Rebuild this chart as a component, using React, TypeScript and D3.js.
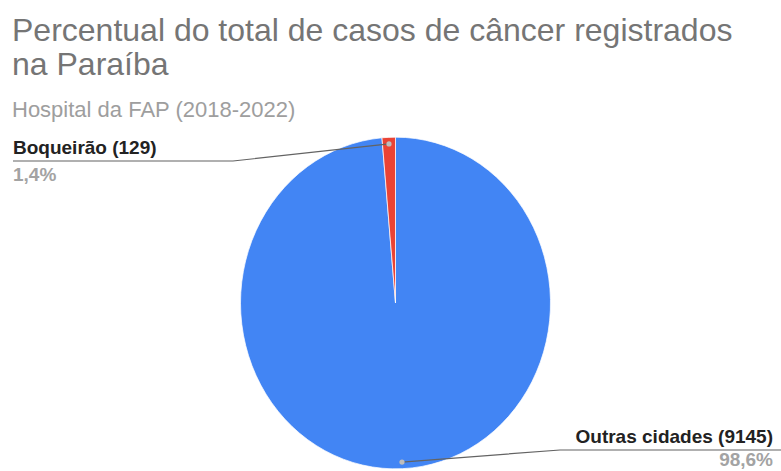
import React from "react";
import * as d3 from "d3";

const categories = ["Outras cidades", "Boqueirão"];
const values = [9145, 129];
const percentLabels = ["98,6%", "1,4%"];
const colors = ["#4285f4", "#ea4335"];

const W = 781;
const H = 471;
const SY = 1.07;

export default function App() {
  const data = categories.map((c, i) => ({ name: c, value: values[i] }));
  const pie = d3
    .pie<{ name: string; value: number }>()
    .sort(null)
    .value((d) => d.value);
  const arcs = pie(data);
  const r = 155;
  const cx = 395.5;
  const cy = 303;
  const arc = d3.arc<any>().innerRadius(0).outerRadius(r);
  const dotArc = d3.arc<any>().innerRadius(r * 0.96).outerRadius(r * 0.96);

  const dots = arcs.map((a) => {
    const [x, y] = dotArc.centroid(a);
    return [cx + x, cy + y * SY];
  });

  const font = "'Liberation Sans', Arial, Helvetica, sans-serif";

  const leftLineY = 161;
  const rightLineY = 450;

  return (
    <svg
      width={W}
      height={H}
      style={{ position: "absolute", left: 0, top: 0, background: "#fff" }}
      fontFamily={font}
    >
      <rect width={W} height={H} fill="#fff" />
      <text x={12} y={41} fontSize={32} fill="#757575">
        Percentual do total de casos de câncer registrados
      </text>
      <text x={12} y={75} fontSize={32} fill="#757575">
        na Paraíba
      </text>
      <text x={12} y={117} fontSize={22} fill="#9e9e9e">
        Hospital da FAP (2018-2022)
      </text>

      <g transform={`translate(${cx},${cy}) scale(1,${SY})`}>
        {arcs.map((a, i) => (
          <path
            key={i}
            d={arc(a) as string}
            fill={colors[i]}
            stroke="#fff"
            strokeWidth={0.7}
          />
        ))}
      </g>

      <polyline
        points={`${dots[1][0]},${dots[1][1]} 233,${leftLineY} 13,${leftLineY}`}
        fill="none"
        stroke="#636363"
        strokeWidth={1.2}
      />
      <polyline
        points={`${dots[0][0]},${dots[0][1]} 560,${rightLineY} ${W},${rightLineY}`}
        fill="none"
        stroke="#636363"
        strokeWidth={1.2}
      />
      {dots.map((d, i) => (
        <circle key={i} cx={d[0]} cy={d[1]} r={2.6} fill="#bdbdbd" />
      ))}

      <text x={13} y={154} fontSize={19} fontWeight="bold" fill="#222">
        {`${categories[1]} (${values[1]})`}
      </text>
      <text x={13} y={181} fontSize={19} fontWeight="bold" fill="#a3a3a3">
        {percentLabels[1]}
      </text>
      <text x={773} y={443} fontSize={19} fontWeight="bold" fill="#222" textAnchor="end">
        {`${categories[0]} (${values[0]})`}
      </text>
      <text x={773} y={466} fontSize={19} fontWeight="bold" fill="#a3a3a3" textAnchor="end">
        {percentLabels[0]}
      </text>
    </svg>
  );
}
